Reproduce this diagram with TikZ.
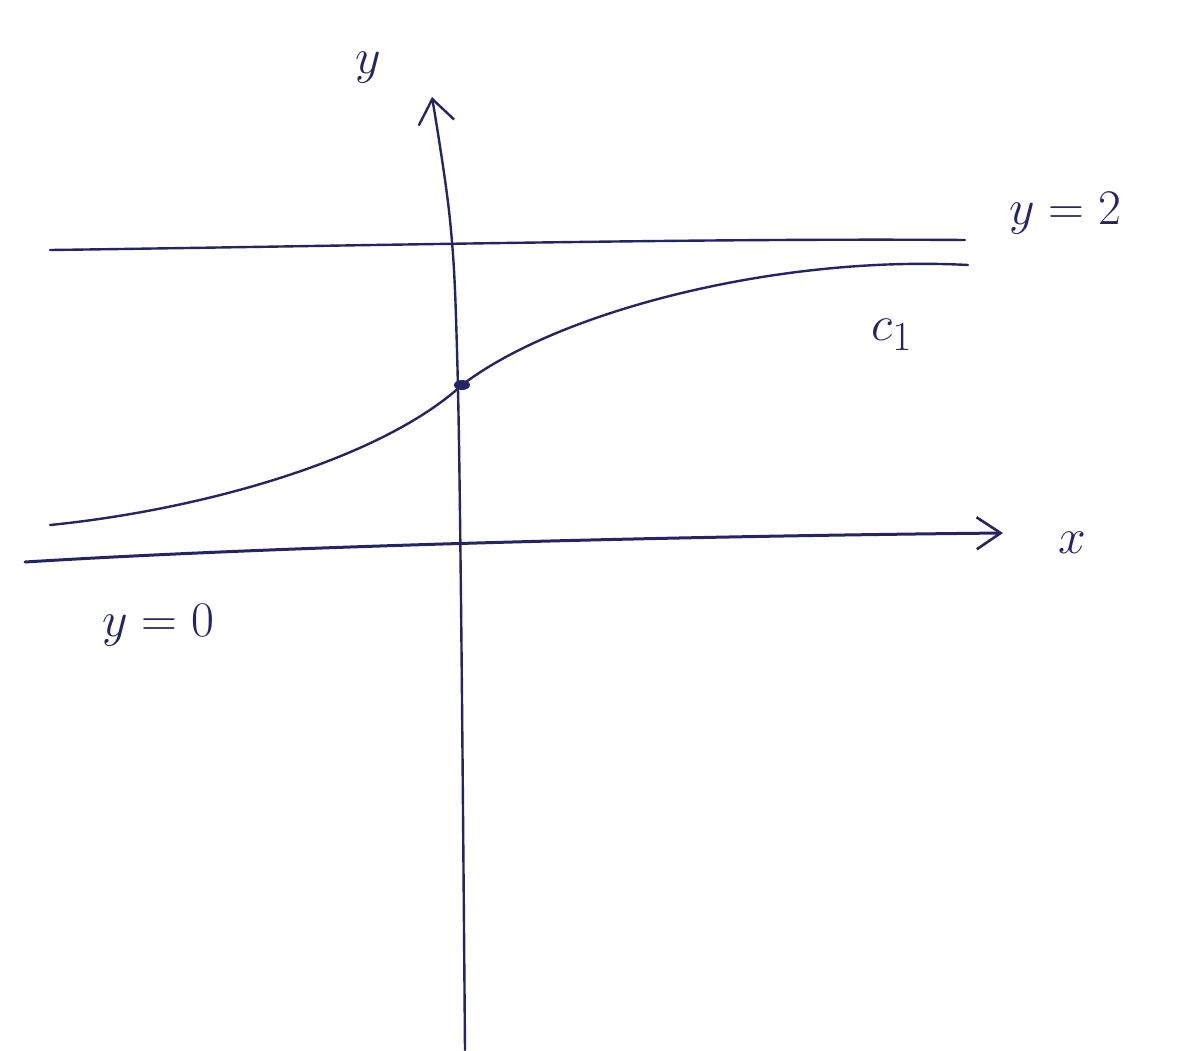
\documentclass[tikz,border=0pt]{standalone}
\usetikzlibrary{arrows.meta}
\definecolor{ink}{RGB}{38,36,100}
\begin{document}
\begin{tikzpicture}[x=0.5pt,y=-0.5pt,
  pen/.style={draw=ink,line width=1.2pt,line cap=round,line join=round},
  lbl/.style={text=ink,font=\fontsize{30}{36}\selectfont,inner sep=0pt}]
\useasboundingbox[fill=white] (0,0) rectangle (1178,1050);
% axes
\coordinate (ybot) at (465,1050);
\coordinate (ytop) at (432,97);
\coordinate (xleft) at (25,562);
\coordinate (xright) at (1003,533);
\draw[pen,-{Straight Barb[length=12pt,width=18pt,line width=1.2pt]}] plot[smooth,tension=0.6] coordinates {(ybot) (461,600) (457,350) (450,220) (ytop)};
\draw[pen,line width=1.5pt,-{Straight Barb[length=12pt,width=16pt,line width=1.3pt]}] (xleft) .. controls (300,545) and (700,536) .. (xright);
% asymptote y=2
\coordinate (aL) at (50,250);
\coordinate (aR) at (965,240);
\draw[pen] (aL) .. controls (350,246) and (700,238) .. (aR);
% curve c1
\coordinate (cL) at (50,525);
\coordinate (cM) at (462,385);
\coordinate (cR) at (968,265);
\draw[pen] (cL) .. controls (200,510) and (380,460) .. (cM)
  .. controls (560,310) and (780,255) .. (cR);
\fill[ink] (cM) ellipse (8 and 5);
% labels
\node[lbl] (ly) at (368,68) {$y$};
\node[lbl] (lx) at (1072,543) {$x$};
\node[lbl] (l2) at (1065,213) {$y=2$};
\node[lbl] (lc) at (892,335) {$c_1$};
\node[lbl] (l0) at (158,625) {$y=0$};
\end{tikzpicture}
\end{document}
